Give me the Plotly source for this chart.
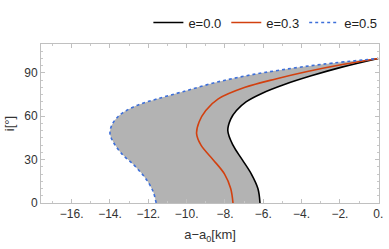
import plotly.graph_objects as go

# inclination [deg] and drift a-a0 [km]
i_e00 = [0, 10, 20, 30, 40, 50, 58, 64, 70, 76, 82, 88, 94, 100]
a_e00 = [-6.17, -6.28, -6.62, -7.10, -7.58, -7.85, -7.70, -7.40, -6.90, -6.05, -4.90, -3.50, -1.90, 0.0]

i_e03 = [0, 10, 20, 30, 40, 48, 56, 64, 72, 80, 86, 91, 96, 100]
a_e03 = [-7.58, -7.70, -8.02, -8.62, -9.25, -9.48, -9.35, -9.00, -8.35, -6.95, -5.30, -3.70, -1.80, 0.0]

i_e05 = [0, 8, 17, 26, 34, 42, 48, 54, 60, 64, 68, 72, 77, 83, 88, 92, 96, 100]
a_e05 = [-11.59, -11.75, -12.14, -12.73, -13.38, -13.82, -14.0, -13.9, -13.56, -13.14, -12.5,
         -11.55, -10.2, -8.6, -6.9, -5.1, -2.9, 0.0]

x_tickvals = [-16, -14, -12, -10, -8, -6, -4, -2, 0]
x_ticktext = ["\u221216.", "\u221214.", "\u221212.", "\u221210.", "\u22128.", "\u22126.", "\u22124.", "\u22122.", "0."]
y_tickvals = [0, 30, 60, 90]

BLACK = "#000000"
RED = "#d2400f"
BLUE = "#3d6fd9"
FONT = "Liberation Sans, Arial, sans-serif"

fig = go.Figure()
# shaded band between e=0.0 and e=0.5
fig.add_trace(go.Scatter(x=a_e00, y=i_e00, mode="lines", line=dict(width=0, shape="spline"),
                         showlegend=False, hoverinfo="skip"))
fig.add_trace(go.Scatter(x=a_e05, y=i_e05, mode="lines", line=dict(width=0, shape="spline"),
                         fill="tonextx", fillcolor="#b3b3b3", showlegend=False, hoverinfo="skip"))
fig.add_trace(go.Scatter(x=a_e00, y=i_e00, mode="lines", name="e=0.0",
                         line=dict(color=BLACK, width=1.6, shape="spline")))
fig.add_trace(go.Scatter(x=a_e03, y=i_e03, mode="lines", name="e=0.3",
                         line=dict(color=RED, width=1.6, shape="spline")))
fig.add_trace(go.Scatter(x=a_e05, y=i_e05, mode="lines", name="e=0.5",
                         line=dict(color=BLUE, width=1.6, shape="spline", dash="3px,3px")))

axis_common = dict(showgrid=False, zeroline=False, showline=True, linecolor="#c0c0c0", linewidth=1,
                   mirror="ticks", ticks="inside", ticklen=4, tickcolor="#c0c0c0",
                   ticklabeloverflow="allow",
                   tickfont=dict(family=FONT, size=12, color="#333333"))

fig.update_xaxes(range=[-17.6, 0.04], tickmode="array", tickvals=x_tickvals, ticktext=x_ticktext,
                 minor=dict(dtick=1, ticklen=2, tickcolor="#c8c8c8", ticks="inside"),
                 title=dict(text="a\u2212a<sub>0</sub>[km]", standoff=9,
                            font=dict(family=FONT, size=13, color="#333333")),
                 **axis_common)
fig.update_yaxes(range=[0, 110], tickvals=y_tickvals,
                 minor=dict(dtick=5, ticklen=2, tickcolor="#c8c8c8", ticks="inside"),
                 title=dict(text="i[\u00b0]", standoff=6,
                            font=dict(family=FONT, size=13, color="#333333")),
                 **axis_common)

fig.update_layout(width=389, height=249, margin=dict(l=41, r=7, t=31, b=46),
                  plot_bgcolor="white", paper_bgcolor="white",
                  legend=dict(orientation="h", traceorder="normal",
                              x=1.01, xanchor="right", y=1.135, yanchor="middle", yref="paper",
                              font=dict(family=FONT, size=13, color="#222222"),
                              itemwidth=30, bgcolor="rgba(0,0,0,0)"),
                  showlegend=True)

fig.write_html("out.html", config={"displayModeBar": False},
               post_script="document.body.style.margin='0';document.body.style.overflow='hidden';")
